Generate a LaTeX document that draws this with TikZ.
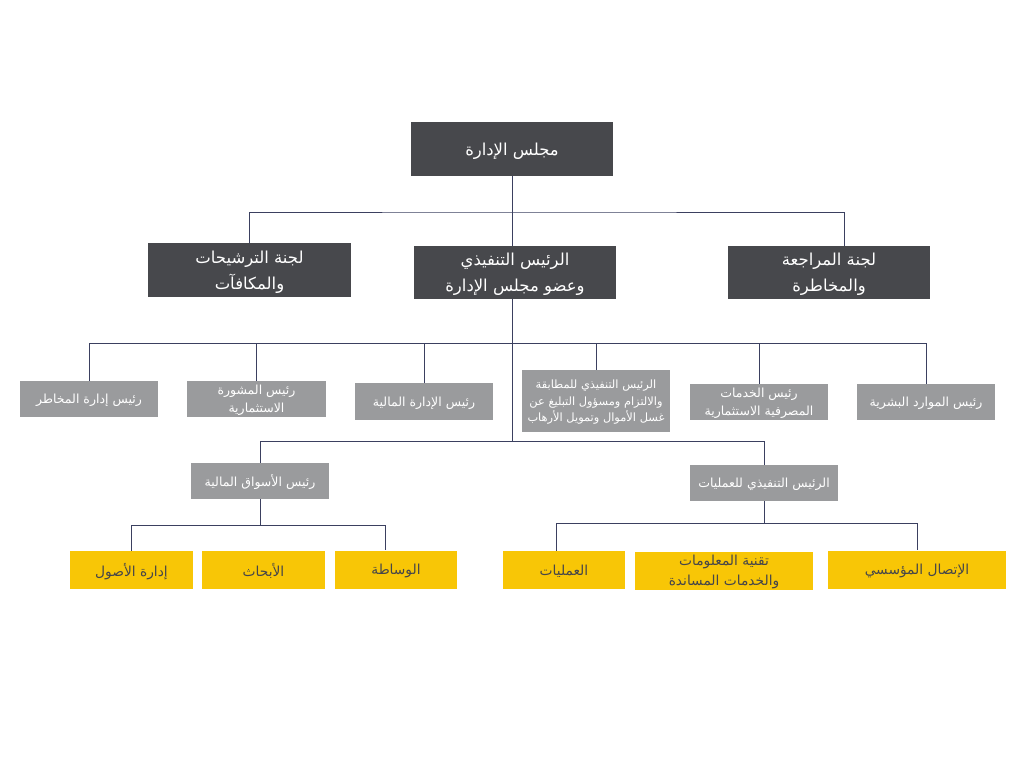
\documentclass[tikz,border=0pt]{standalone}
\usepackage{fontspec}
\newfontfamily\arabicfont[Script=Arabic]{DejaVu Sans}
\TeXXeTstate=1
\usetikzlibrary{calc, positioning}
\newcommand{\artext}[1]{\beginR #1\endR}
\definecolor{boardgray}{HTML}{47484C}
\definecolor{headgray}{HTML}{9A9B9D}
\definecolor{unityellow}{HTML}{F8C606}
\definecolor{linknavy}{HTML}{3B4060}
\definecolor{unittext}{HTML}{45454A}

\begin{document}
\begin{tikzpicture}[x=0.025cm, y=-0.025cm,
  top/.style={fill=boardgray, text=white, align=center, inner sep=0pt,
              minimum width=5.05cm, minimum height=1.33cm, text depth=0pt,
              font=\arabicfont\fontsize{11.7}{18.5}\selectfont},
  head/.style={fill=headgray, text=white, align=center, inner sep=0pt,
               minimum width=3.45cm, minimum height=0.9cm, text depth=0pt,
               font=\arabicfont\fontsize{8.9}{13}\selectfont},
  unit/.style={fill=unityellow, text=unittext, align=center, inner sep=0pt,
               minimum width=3.07cm, minimum height=0.95cm, text depth=0pt,
               font=\arabicfont\fontsize{9.8}{14.2}\selectfont},
  link/.style={draw=linknavy, line width=0.7pt}]

\fill[white] (0,0) rectangle (1024,768);
\useasboundingbox (0,0) rectangle (1024,768);

% --- board and committees
\node[top] (board) at (512,149) {\artext{مجلس الإدارة}};
\node[top, minimum width=5.07cm] (nom) at (249.5,270)
  {\artext{لجنة الترشيحات}\\\artext{والمكافآت}};
\node[top] (ceo) at (515,272.5)
  {\artext{الرئيس التنفيذي}\\\artext{وعضو مجلس الإدارة}};
\node[top] (audit) at (829,272.5)
  {\artext{لجنة المراجعة}\\\artext{والمخاطرة}};

\coordinate (bus1) at (0,212);
\coordinate (bus2) at (0,343);
\coordinate (bus3) at (0,441);
\coordinate (bus4) at (0,525);
\coordinate (bus5) at (0,523);
\coordinate (auditin) at ($(audit.north)+(15,0)$);

\draw[link] (board.south) -- (board.south |- ceo.north);
\draw[link] (nom.north) |- (board.south |- bus1) -| (auditin);

% --- department heads
\node[head] (risk) at (89,399) {\artext{رئيس إدارة المخاطر}};
\node[head] (advice) at (256.5,399)
  {\artext{رئيس المشورة}\\\artext{الاستثمارية}};
\node[head] (finance) at (424,401.5) {\artext{رئيس الإدارة المالية}};
\node[head, minimum width=3.7cm, minimum height=1.55cm,
      font=\arabicfont\fontsize{8.1}{11.8}\selectfont] (comply) at (596,401)
  {\artext{الرئيس التنفيذي للمطابقة}\\\artext{والالتزام ومسؤول التبليغ عن}\\\artext{غسل الأموال وتمويل الأرهاب}};
\node[head] (banking) at (759,402)
  {\artext{رئيس الخدمات}\\\artext{المصرفية الاستثمارية}};
\node[head] (hr) at (926,402) {\artext{رئيس الموارد البشرية}};

\draw[link] (board.south |- ceo.south) -- (board.south |- bus3);
\draw[link] (risk.north) |- (hr.north |- bus2) -- (hr.north);
\foreach \n in {advice, finance, comply, banking}
  \draw[link] (\n.north) -- (\n.north |- bus2);

% --- markets and operations
\node[head] (markets) at (260,481) {\artext{رئيس الأسواق المالية}};
\node[head, minimum width=3.7cm] (ops) at (764,483)
  {\artext{الرئيس التنفيذي للعمليات}};

\draw[link] (markets.north) |- (ops.north |- bus3) -- (ops.north);

% --- units
\node[unit] (assets) at (131.5,570) {\artext{إدارة الأصول}};
\node[unit] (research) at (263.5,570) {\artext{الأبحاث}};
\node[unit] (brokerage) at (396,569.5) {\artext{الوساطة}};
\node[unit, minimum width=3.05cm] (operations) at (564,570) {\artext{العمليات}};
\node[unit, minimum width=4.45cm] (itsupport) at (724,570.5)
  {\artext{تقنية المعلومات}\\\artext{والخدمات المساندة}};
\node[unit, minimum width=4.45cm] (corpcomm) at (917,569.5)
  {\artext{الإتصال المؤسسي}};

\coordinate (brokin) at ($(brokerage.north)+(-11,0)$);
\coordinate (opsin) at ($(operations.north)+(-8,0)$);

\draw[link] (markets.south) -- (markets.south |- bus4);
\draw[link] (assets.north) |- (brokin |- bus4) -- (brokin);
\draw[link] (ops.south) -- (ops.south |- bus5);
\draw[link] (opsin) |- (corpcomm.north |- bus5) -- (corpcomm.north);
\end{tikzpicture}
\end{document}
